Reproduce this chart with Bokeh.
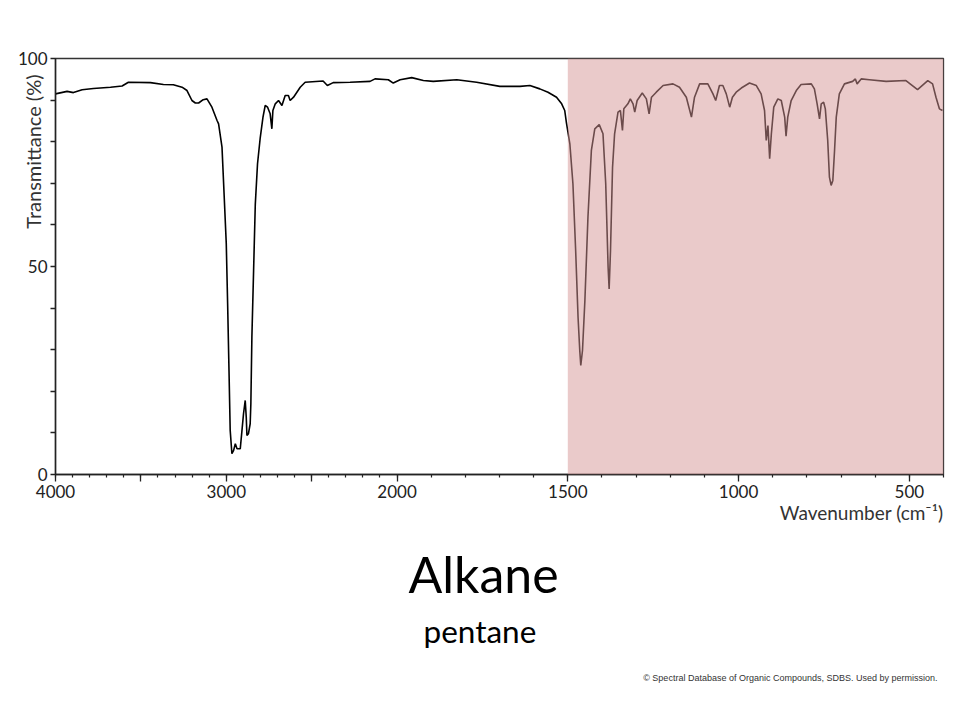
import numpy as np
from bokeh.plotting import figure
from bokeh.models import (FixedTicker, CustomJSTickFormatter, BoxAnnotation,
                          Range1d, Title)
from bokeh.embed import file_html
from bokeh.resources import INLINE

# ---- data (IR spectrum of pentane) ----
wavenumber = [4000, 3932, 3895, 3844, 3778, 3678, 3610, 3573, 3444, 3368,
              3310, 3259, 3230, 3201, 3181, 3162, 3135, 3113, 3084, 3054,
              3045, 3025, 3012, 3000, 2992, 2984, 2977, 2967, 2957, 2947,
              2937, 2918, 2908, 2899, 2889, 2883, 2879, 2870, 2860, 2856,
              2850, 2840, 2830, 2817, 2801, 2785, 2772, 2758, 2743, 2733,
              2727, 2713, 2694, 2674, 2655, 2636, 2626, 2606, 2567, 2538,
              2433, 2408, 2374, 2275, 2158, 2129, 2051, 2022, 1991, 1957,
              1923, 1894, 1825, 1767, 1699, 1640, 1611, 1582, 1558, 1533,
              1518, 1509, 1504, 1494, 1485, 1477, 1470, 1465, 1462, 1457,
              1450, 1441, 1431, 1421, 1408, 1397, 1389, 1382, 1379, 1375,
              1369, 1363, 1353, 1346, 1340, 1336, 1324, 1317, 1309, 1304,
              1297, 1282, 1270, 1262, 1255, 1241, 1221, 1192, 1173, 1153,
              1138, 1129, 1114, 1090, 1075, 1067, 1056, 1046, 1036, 1026,
              1018, 1007, 992, 968, 948, 934, 924, 919, 914, 909,
              904, 897, 885, 875, 865, 861, 856, 846, 831, 817,
              787, 778, 770, 763, 758, 751, 746, 739, 734, 729,
              724, 719, 714, 705, 690, 666, 658, 653, 641, 617,
              568, 510, 476, 446, 432, 422, 412, 403]
transmittance = [91.5, 92.1, 91.8, 92.5, 92.8, 93.1, 93.4, 94.3, 94.2, 93.75,
                 93.7, 93.1, 92.3, 89.9, 89.3, 89.3, 90.1, 90.3, 88.3, 85.1,
                 84.3, 78.7, 66.7, 55.5, 41, 25, 10.6, 5, 5.8, 7.4,
                 6.2, 6.2, 10.6, 14.6, 17.8, 13.8, 9.4, 9.8, 12.2, 17,
                 33, 49, 65, 74.7, 81, 85.9, 88.7, 88.3, 86.7, 83.1,
                 87.5, 89.1, 89.9, 88.7, 91.1, 91.1, 89.9, 90.7, 93.1, 94.3,
                 94.6, 93.5, 94.2, 94.3, 94.5, 95.1, 94.9, 94.1, 94.9, 95.4,
                 94.7, 94.5, 94.9, 94.3, 93.3, 93.3, 93.5, 92.7, 91.9, 90.7,
                 89.1, 87.5, 84.5, 79.5, 69.9, 53.8, 37.8, 29.8, 26.2, 29.8,
                 41.8, 61.9, 77.9, 83.1, 84.1, 81.9, 69.9, 49.8, 44.6, 53.8,
                 73.9, 81.9, 87.1, 87.5, 82.7, 87.9, 89.1, 90.3, 89.1, 87.1,
                 89.9, 91.7, 90.3, 86.7, 90.7, 91.9, 93.5, 93.9, 93.1, 90.7,
                 85.9, 90.7, 93.9, 93.9, 91.5, 89.9, 93.5, 93.5, 91.5, 88.3,
                 90.7, 91.9, 92.9, 94.1, 93.5, 91.5, 87.5, 80.3, 83.9, 75.9,
                 81.9, 88.3, 90.3, 89.9, 85.9, 81.3, 85.9, 89.9, 92.3, 93.75,
                 93.9, 92.7, 89.1, 85.5, 89.1, 89.5, 87.9, 80.3, 71.5, 69.5,
                 70.7, 77.9, 85.9, 91.5, 93.9, 94.5, 95.1, 93.9, 95.1, 94.9,
                 94.5, 94.7, 92.5, 94.7, 93.9, 90.7, 87.9, 87.5]

x_tick_wavenumbers = [4000, 3500, 3000, 2500, 2000, 1500, 1000, 500]
x_tick_labels = ["4000", "", "3000", "", "2000", "1500", "1000", "500"]
x_minor_wavenumbers = list(range(4000, 399, -100))
y_ticks = [0, 10, 20, 30, 40, 50, 60, 70, 80, 90, 100]
y_tick_labels = ["0", "", "", "", "", "50", "", "", "", "", "100"]
wn_start, wn_end = 4000, 400
fingerprint_start = 1500

title_text = "Alkane"
subtitle_text = "pentane"
x_title = "Wavenumber (cm\u207b\u00b9)"
y_title = "Transmittance (%)"
credit_text = "\u00a9 Spectral Database of Organic Compounds, SDBS. Used by permission."


# split wavenumber scale: 1000 cm-1 per unit above 2000, 500 cm-1 per unit below
def wn_to_u(wn):
    wn = np.asarray(wn, dtype=float)
    return np.where(wn >= 2000, (4000 - wn) / 1000.0, 2 + (2000 - wn) / 500.0)


u = wn_to_u(wavenumber)
u_start = float(wn_to_u(wn_start))
u_end = float(wn_to_u(wn_end))

p = figure(frame_width=888, frame_height=416,
           x_range=Range1d(u_start, u_end), y_range=Range1d(0, 100),
           output_backend="svg", toolbar_location=None,
           min_border_left=55, min_border_right=9,
           min_border_top=58, min_border_bottom=230)
p.background_fill_color = "white"
p.border_fill_color = "white"
p.outline_line_color = "#333333"
p.outline_line_width = 1.3
p.xgrid.visible = False
p.ygrid.visible = False

p.line(u, transmittance, line_color="black", line_width=1.6)

p.add_layout(BoxAnnotation(left=float(wn_to_u(fingerprint_start)), right=u_end,
                           bottom=0, top=100, fill_color="#d69595",
                           fill_alpha=0.5, line_color=None))

# x axis
major_u = [float(v) for v in wn_to_u(x_tick_wavenumbers)]
minor_u = [float(v) for v in wn_to_u(x_minor_wavenumbers)]
p.xaxis.ticker = FixedTicker(ticks=major_u, minor_ticks=minor_u)
p.xaxis.formatter = CustomJSTickFormatter(
    args=dict(tick_pos=major_u, tick_text=x_tick_labels),
    code="""
    for (let i = 0; i < tick_pos.length; i++) {
        if (Math.abs(tick_pos[i] - tick) < 1e-6) { return tick_text[i]; }
    }
    return "";
    """)
p.yaxis.ticker = FixedTicker(ticks=y_ticks)
p.yaxis.major_label_overrides = {t: lab for t, lab in zip(y_ticks, y_tick_labels)}

for ax in (p.xaxis[0], p.yaxis[0]):
    ax.axis_line_color = "#222222"
    ax.axis_line_width = 1.5
    ax.major_tick_line_color = "#222222"
    ax.minor_tick_line_color = "#222222"
    ax.major_tick_line_width = 1.3
    ax.minor_tick_line_width = 1.2
    ax.major_tick_in = 0
    ax.minor_tick_in = 0
    ax.major_label_text_font = "Lato"
    ax.major_label_text_font_size = "17px"
    ax.major_label_text_color = "#222222"

p.xaxis.major_tick_out = 7
p.xaxis.minor_tick_out = 3
p.xaxis.major_label_standoff = 3
p.yaxis.major_tick_out = 5
p.yaxis.minor_tick_out = 0
p.yaxis.major_label_standoff = 3

# y axis title: centred label, padded on its lower side with fixed-width
# spaces so that the visible words sit in the upper part of the axis
yax = p.yaxis[0]
yax.axis_label = "\u2003" * 14 + "\u00a0" * 4 + y_title
yax.axis_label_text_font = "Lato"
yax.axis_label_text_font_size = "20px"
yax.axis_label_text_font_style = "normal"
yax.axis_label_text_color = "#333333"
yax.axis_label_standoff = -30


def below_title(text, size, font, color, align, offset, standoff):
    t = Title(text=text, align=align, offset=offset, standoff=standoff,
              text_font=font, text_font_size=size, text_font_style="normal",
              text_color=color)
    p.add_layout(t, "below")


below_title(x_title, "19px", "Lato", "#333333", "right", 0, -3)
below_title(title_text, "50px", "Lato", "black", "left", 353, 39)
below_title(subtitle_text, "31.5px", "Lato", "black", "left", 368, -27)
below_title(credit_text, "9px", "Liberation Sans", "#333333", "right", 6, 68)

open("out.html", "w").write(file_html(p, INLINE))
